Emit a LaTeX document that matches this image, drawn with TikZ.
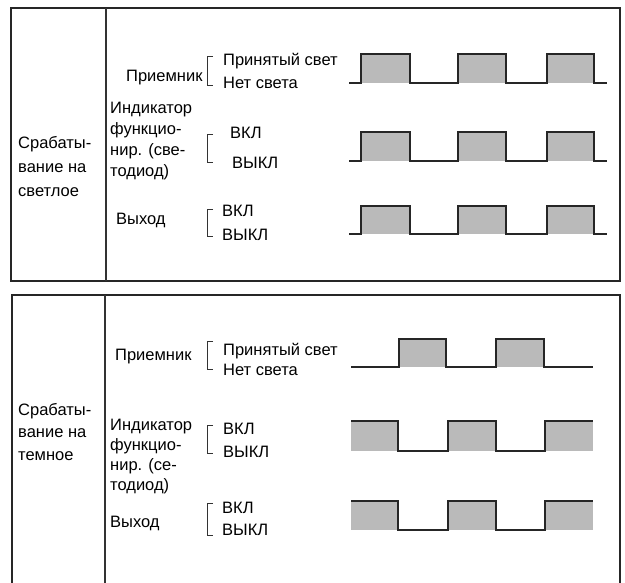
\documentclass[tikz,border=0pt]{standalone}
\usepackage{fontspec}
\setmainfont{Liberation Sans}

\begin{document}
\begin{tikzpicture}[x=1pt,y=-1pt,line join=miter,
  frame/.style={draw=black!85,line width=1.8pt},
  divider/.style={draw=black!80,line width=1.2pt},
  wave/.style={draw=black!85,line width=1.1pt},
  pulse/.style={fill=black!27},
  brk/.style={draw=black!80,line width=1pt},
  lbl/.style={anchor=west,inner sep=0pt,font=\fontsize{16.5}{18}\selectfont},
  block/.style={anchor=west,inner sep=0pt,align=left}]
  \useasboundingbox (0,0) rectangle (625,583);

  % upper panel: switching on light
  \draw[frame] (11,8) rectangle (620,281);
  \draw[divider] (106,8) -- (106,281);

  \node[block,font=\fontsize{16.5}{24}\selectfont] (light) at (18,167) {Срабаты-\\вание на\\светлое};
  \node[lbl] (rx1) at (126,78) {Приемник};
  \node[lbl] (rxon1) at (223,61) {Принятый свет};
  \node[lbl] (rxoff1) at (223,83) {Нет света};
  \node[block,font=\fontsize{16.5}{21}\selectfont] (led1) at (110,141) {Индикатор\\функцио-\\нир. (све-\\тодиод)};
  \node[lbl] (ledon1) at (230,133) {ВКЛ};
  \node[lbl] (ledoff1) at (232,163) {ВЫКЛ};
  \node[lbl] (out1) at (116,220) {Выход};
  \node[lbl] (outon1) at (222,211) {ВКЛ};
  \node[lbl] (outoff1) at (222,235) {ВЫКЛ};

  \draw[brk] (213,57) -- (207,57) -- (207,86) -- (213,86);
  \draw[brk] (213,135) -- (207,135) -- (207,163) -- (213,163);
  \draw[brk] (213,210) -- (207,210) -- (207,237) -- (213,237);

  \foreach \a/\b in {361/410,458/506,547/594}{
    \fill[pulse] (\a,54) rectangle (\b,83);
    \fill[pulse] (\a,132) rectangle (\b,161);
    \fill[pulse] (\a,206) rectangle (\b,234);
  }
  \draw[wave] (349,83) -- (361,83) -- (361,54) -- (410,54) -- (410,83) -- (458,83) -- (458,54)
    -- (506,54) -- (506,83) -- (547,83) -- (547,54) -- (594,54) -- (594,83) -- (607,83);
  \draw[wave] (349,161) -- (361,161) -- (361,132) -- (410,132) -- (410,161) -- (458,161) -- (458,132)
    -- (506,132) -- (506,161) -- (547,161) -- (547,132) -- (594,132) -- (594,161) -- (607,161);
  \draw[wave] (349,234) -- (361,234) -- (361,206) -- (410,206) -- (410,234) -- (458,234) -- (458,206)
    -- (506,206) -- (506,234) -- (547,234) -- (547,206) -- (594,206) -- (594,234) -- (607,234);

  % lower panel: switching on dark
  \draw[frame] (12,583) -- (12,295) -- (620,295) -- (620,583);
  \draw[divider] (105,295) -- (105,583);

  \node[block,font=\fontsize{16.5}{22.5}\selectfont] (dark) at (18,432) {Срабаты-\\вание на\\темное};
  \node[lbl] (rx2) at (115,357) {Приемник};
  \node[lbl] (rxon2) at (223,351) {Принятый свет};
  \node[lbl] (rxoff2) at (223,370) {Нет света};
  \node[block,font=\fontsize{16.5}{20}\selectfont] (led2) at (110,457) {Индикатор\\функцио-\\нир. (се-\\тодиод)};
  \node[lbl] (ledon2) at (223,429) {ВКЛ};
  \node[lbl] (ledoff2) at (223,452) {ВЫКЛ};
  \node[lbl] (out2) at (110,523) {Выход};
  \node[lbl] (outon2) at (222,508) {ВКЛ};
  \node[lbl] (outoff2) at (222,530) {ВЫКЛ};

  \draw[brk] (213,342) -- (207,342) -- (207,370) -- (213,370);
  \draw[brk] (213,425) -- (207,425) -- (207,453) -- (213,453);
  \draw[brk] (213,503) -- (207,503) -- (207,535) -- (213,535);

  \foreach \a/\b in {399/446,496/544}
    \fill[pulse] (\a,339) rectangle (\b,367);
  \foreach \a/\b in {351/398,448/496,545/593}{
    \fill[pulse] (\a,421) rectangle (\b,451);
    \fill[pulse] (\a,501) rectangle (\b,530);
  }
  \draw[wave] (351,367) -- (399,367) -- (399,339) -- (446,339) -- (446,367) -- (496,367) -- (496,339)
    -- (544,339) -- (544,367) -- (593,367);
  \draw[wave] (351,421) -- (398,421) -- (398,451) -- (448,451) -- (448,421) -- (496,421) -- (496,451)
    -- (545,451) -- (545,421) -- (593,421);
  \draw[wave] (351,501) -- (398,501) -- (398,530) -- (448,530) -- (448,501) -- (496,501) -- (496,530)
    -- (545,530) -- (545,501) -- (593,501);
\end{tikzpicture}
\end{document}
